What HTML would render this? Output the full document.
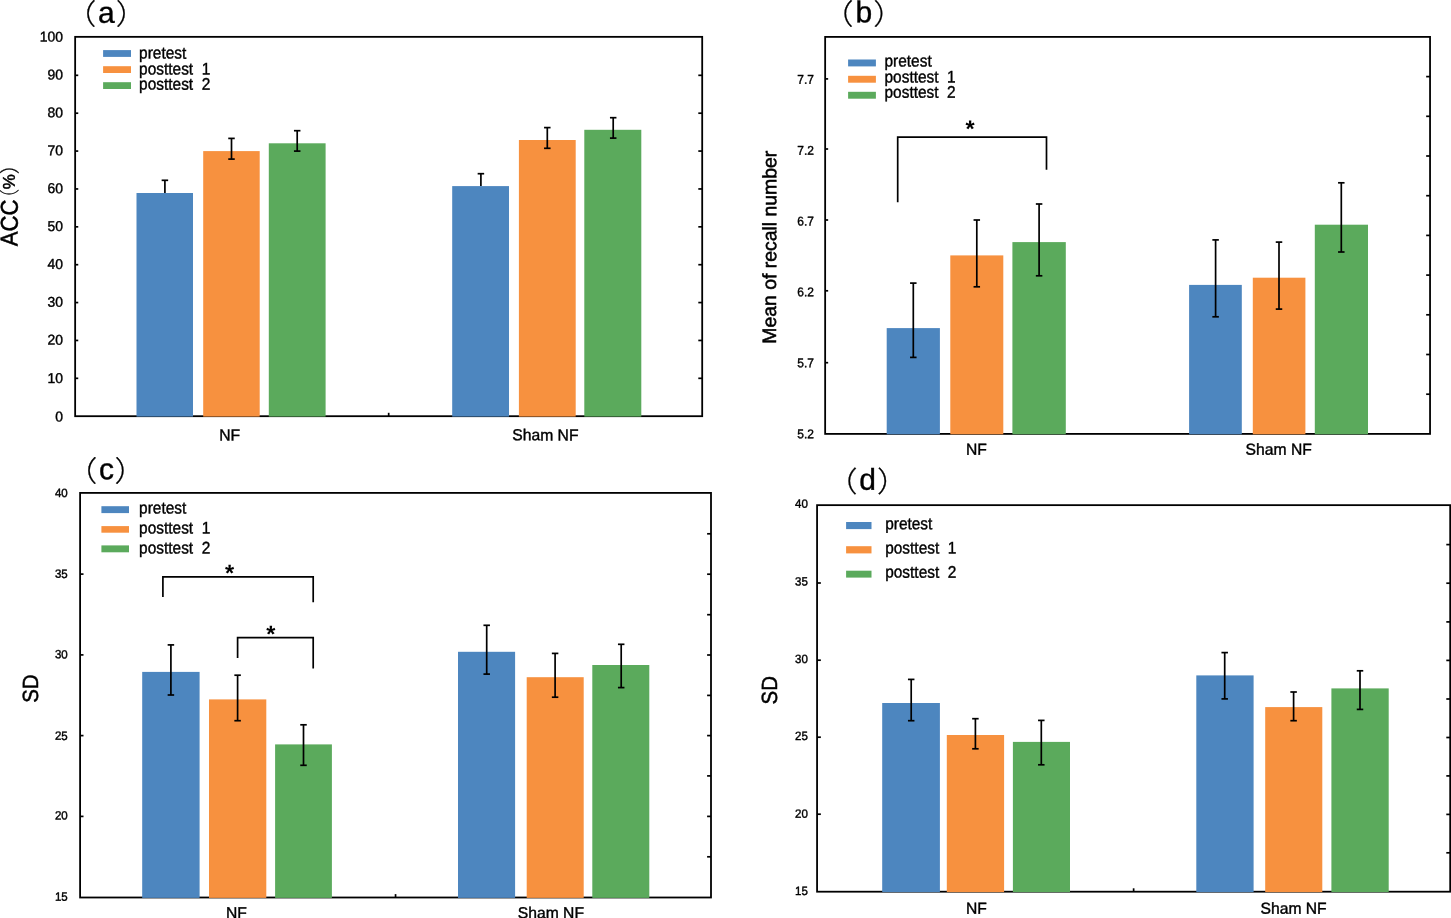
<!DOCTYPE html>
<html lang="en">
<head>
<meta charset="utf-8">
<title>Figure: NF vs Sham NF</title>
<style>
html,body{margin:0;padding:0;background:#fff;}
body{width:1451px;height:918px;overflow:hidden;}
svg{display:block;}
svg text{font-family:"Liberation Sans","Noto Sans CJK SC",sans-serif;fill:#000;}
svg text.t,svg .t2{stroke:#000;stroke-width:0.4px;}
svg text.ty{stroke:#000;stroke-width:0.5px;}
svg .pp{stroke:#000;stroke-width:0.25px;font-family:"Noto Sans CJK SC","Liberation Sans",sans-serif;font-weight:300;}
</style>
</head>
<body>
<svg width="1451" height="918" viewBox="0 0 1451 918">
<rect x="0" y="0" width="1451" height="918" fill="#fff"/>
<g>
<rect x="75.15" y="36.85" width="627.05" height="379.35" fill="none" stroke="#000" stroke-width="1.8"/>
<line x1="75.15" y1="75.32" x2="78.25" y2="75.32" stroke="#000" stroke-width="1.7" stroke-linecap="butt"/>
<line x1="75.15" y1="113.2" x2="78.25" y2="113.2" stroke="#000" stroke-width="1.7" stroke-linecap="butt"/>
<line x1="75.15" y1="151.07" x2="78.25" y2="151.07" stroke="#000" stroke-width="1.7" stroke-linecap="butt"/>
<line x1="75.15" y1="188.95" x2="78.25" y2="188.95" stroke="#000" stroke-width="1.7" stroke-linecap="butt"/>
<line x1="75.15" y1="226.82" x2="78.25" y2="226.82" stroke="#000" stroke-width="1.7" stroke-linecap="butt"/>
<line x1="75.15" y1="264.7" x2="78.25" y2="264.7" stroke="#000" stroke-width="1.7" stroke-linecap="butt"/>
<line x1="75.15" y1="302.57" x2="78.25" y2="302.57" stroke="#000" stroke-width="1.7" stroke-linecap="butt"/>
<line x1="75.15" y1="340.45" x2="78.25" y2="340.45" stroke="#000" stroke-width="1.7" stroke-linecap="butt"/>
<line x1="75.15" y1="378.32" x2="78.25" y2="378.32" stroke="#000" stroke-width="1.7" stroke-linecap="butt"/>
<line x1="698.3" y1="75.32" x2="702.2" y2="75.32" stroke="#000" stroke-width="1.7" stroke-linecap="butt"/>
<line x1="698.3" y1="113.2" x2="702.2" y2="113.2" stroke="#000" stroke-width="1.7" stroke-linecap="butt"/>
<line x1="698.3" y1="151.07" x2="702.2" y2="151.07" stroke="#000" stroke-width="1.7" stroke-linecap="butt"/>
<line x1="698.3" y1="188.95" x2="702.2" y2="188.95" stroke="#000" stroke-width="1.7" stroke-linecap="butt"/>
<line x1="698.3" y1="226.82" x2="702.2" y2="226.82" stroke="#000" stroke-width="1.7" stroke-linecap="butt"/>
<line x1="698.3" y1="264.7" x2="702.2" y2="264.7" stroke="#000" stroke-width="1.7" stroke-linecap="butt"/>
<line x1="698.3" y1="302.57" x2="702.2" y2="302.57" stroke="#000" stroke-width="1.7" stroke-linecap="butt"/>
<line x1="698.3" y1="340.45" x2="702.2" y2="340.45" stroke="#000" stroke-width="1.7" stroke-linecap="butt"/>
<line x1="698.3" y1="378.32" x2="702.2" y2="378.32" stroke="#000" stroke-width="1.7" stroke-linecap="butt"/>
<line x1="388.68" y1="412.8" x2="388.68" y2="416.2" stroke="#000" stroke-width="1.7" stroke-linecap="butt"/>
<rect x="136.5" y="193" width="56.5" height="223.6" fill="#4D86BF"/>
<rect x="203.2" y="151.1" width="56.5" height="265.5" fill="#F7913F"/>
<rect x="268.8" y="143.3" width="56.8" height="273.3" fill="#5BAA5C"/>
<rect x="452.2" y="186.1" width="56.8" height="230.5" fill="#4D86BF"/>
<rect x="518.9" y="140" width="56.8" height="276.6" fill="#F7913F"/>
<rect x="584.3" y="129.8" width="57" height="286.8" fill="#5BAA5C"/>
<line x1="164.9" y1="180.3" x2="164.9" y2="193" stroke="#000" stroke-width="1.7" stroke-linecap="butt"/>
<line x1="161.65" y1="180.3" x2="168.15" y2="180.3" stroke="#000" stroke-width="1.7" stroke-linecap="butt"/>
<line x1="231.5" y1="138.4" x2="231.5" y2="159.1" stroke="#000" stroke-width="1.7" stroke-linecap="butt"/>
<line x1="228.25" y1="138.4" x2="234.75" y2="138.4" stroke="#000" stroke-width="1.7" stroke-linecap="butt"/>
<line x1="228.25" y1="159.1" x2="234.75" y2="159.1" stroke="#000" stroke-width="1.7" stroke-linecap="butt"/>
<line x1="297.2" y1="130.7" x2="297.2" y2="151.1" stroke="#000" stroke-width="1.7" stroke-linecap="butt"/>
<line x1="293.95" y1="130.7" x2="300.45" y2="130.7" stroke="#000" stroke-width="1.7" stroke-linecap="butt"/>
<line x1="293.95" y1="151.1" x2="300.45" y2="151.1" stroke="#000" stroke-width="1.7" stroke-linecap="butt"/>
<line x1="480.9" y1="173.7" x2="480.9" y2="186.1" stroke="#000" stroke-width="1.7" stroke-linecap="butt"/>
<line x1="477.65" y1="173.7" x2="484.15" y2="173.7" stroke="#000" stroke-width="1.7" stroke-linecap="butt"/>
<line x1="547.3" y1="127.6" x2="547.3" y2="148.3" stroke="#000" stroke-width="1.7" stroke-linecap="butt"/>
<line x1="544.05" y1="127.6" x2="550.55" y2="127.6" stroke="#000" stroke-width="1.7" stroke-linecap="butt"/>
<line x1="544.05" y1="148.3" x2="550.55" y2="148.3" stroke="#000" stroke-width="1.7" stroke-linecap="butt"/>
<line x1="613.2" y1="117.7" x2="613.2" y2="138.1" stroke="#000" stroke-width="1.7" stroke-linecap="butt"/>
<line x1="609.95" y1="117.7" x2="616.45" y2="117.7" stroke="#000" stroke-width="1.7" stroke-linecap="butt"/>
<line x1="609.95" y1="138.1" x2="616.45" y2="138.1" stroke="#000" stroke-width="1.7" stroke-linecap="butt"/>
<rect x="103.1" y="50.1" width="27.9" height="6.8" fill="#4D86BF"/>
<text transform="translate(139.1 58.55) matrix(0.919 0.0018 0 1 0 0)" font-size="16.8" text-anchor="start" class="t">pretest</text>
<rect x="103.1" y="66.2" width="27.9" height="6.8" fill="#F7913F"/>
<text transform="translate(139.1 74.5) matrix(0.919 0.0018 0 1 0 0)" font-size="16.8" text-anchor="start" class="t">posttest&#160;&#160;1</text>
<rect x="103.1" y="82.2" width="27.9" height="6.8" fill="#5BAA5C"/>
<text transform="translate(139.1 89.6) matrix(0.919 0.0018 0 1 0 0)" font-size="16.8" text-anchor="start" class="t">posttest&#160;&#160;2</text>
<text transform="translate(62.9 41.65) matrix(0.98 0.0018 0 1 0 0)" font-size="14.2" text-anchor="end" class="t">100</text>
<text transform="translate(62.9 79.52) matrix(0.98 0.0018 0 1 0 0)" font-size="14.2" text-anchor="end" class="t">90</text>
<text transform="translate(62.9 117.4) matrix(0.98 0.0018 0 1 0 0)" font-size="14.2" text-anchor="end" class="t">80</text>
<text transform="translate(62.9 155.27) matrix(0.98 0.0018 0 1 0 0)" font-size="14.2" text-anchor="end" class="t">70</text>
<text transform="translate(62.9 193.15) matrix(0.98 0.0018 0 1 0 0)" font-size="14.2" text-anchor="end" class="t">60</text>
<text transform="translate(62.9 231.02) matrix(0.98 0.0018 0 1 0 0)" font-size="14.2" text-anchor="end" class="t">50</text>
<text transform="translate(62.9 268.9) matrix(0.98 0.0018 0 1 0 0)" font-size="14.2" text-anchor="end" class="t">40</text>
<text transform="translate(62.9 306.77) matrix(0.98 0.0018 0 1 0 0)" font-size="14.2" text-anchor="end" class="t">30</text>
<text transform="translate(62.9 344.65) matrix(0.98 0.0018 0 1 0 0)" font-size="14.2" text-anchor="end" class="t">20</text>
<text transform="translate(62.9 382.92) matrix(0.98 0.0018 0 1 0 0)" font-size="14.2" text-anchor="end" class="t">10</text>
<text transform="translate(62.9 421.4) matrix(0.98 0.0018 0 1 0 0)" font-size="14.2" text-anchor="end" class="t">0</text>
<text transform="translate(229.6 440.4) matrix(0.98 0.0018 0 1 0 0)" font-size="16" text-anchor="middle" class="t">NF</text>
<text transform="translate(545.4 440.4) matrix(0.98 0.0018 0 1 0 0)" font-size="16" text-anchor="middle" class="t">Sham NF</text>
<text class="ty" transform="translate(17.6 246.2) rotate(-90) matrix(1 0.0018 0 1 0 0)" font-size="22.3" text-anchor="start"><tspan x="0" y="0" font-size="24.4" textLength="46.8" lengthAdjust="spacingAndGlyphs">ACC</tspan><tspan class="pp" font-size="20.5" x="36.9" y="-0.8">（</tspan><tspan x="57" y="-2.9" font-size="17">%</tspan><tspan class="pp" font-size="20.5" x="71.9" y="-0.8">）</tspan></text>
<text class="pp" transform="translate(64.54 24.3) matrix(1.12 0.0018 0 1 0 0)" font-size="28.4">（</text>
<text class="t" transform="translate(97.9 22.7) matrix(1 0.0018 0 1 0 0)" font-size="30">a</text>
<text class="pp" transform="translate(115.76 24.3) matrix(1.12 0.0018 0 1 0 0)" font-size="28.4">）</text>
</g>
<g>
<rect x="825.15" y="36.9" width="604.9" height="397" fill="none" stroke="#000" stroke-width="1.8"/>
<line x1="825.15" y1="362.7" x2="828.15" y2="362.7" stroke="#000" stroke-width="1.7" stroke-linecap="butt"/>
<line x1="825.15" y1="290.8" x2="828.15" y2="290.8" stroke="#000" stroke-width="1.7" stroke-linecap="butt"/>
<line x1="825.15" y1="220" x2="828.15" y2="220" stroke="#000" stroke-width="1.7" stroke-linecap="butt"/>
<line x1="825.15" y1="149" x2="828.15" y2="149" stroke="#000" stroke-width="1.7" stroke-linecap="butt"/>
<line x1="825.15" y1="78.9" x2="828.15" y2="78.9" stroke="#000" stroke-width="1.7" stroke-linecap="butt"/>
<line x1="1426.15" y1="76.6" x2="1430.05" y2="76.6" stroke="#000" stroke-width="1.7" stroke-linecap="butt"/>
<line x1="1426.15" y1="116.3" x2="1430.05" y2="116.3" stroke="#000" stroke-width="1.7" stroke-linecap="butt"/>
<line x1="1426.15" y1="156" x2="1430.05" y2="156" stroke="#000" stroke-width="1.7" stroke-linecap="butt"/>
<line x1="1426.15" y1="195.7" x2="1430.05" y2="195.7" stroke="#000" stroke-width="1.7" stroke-linecap="butt"/>
<line x1="1426.15" y1="235.4" x2="1430.05" y2="235.4" stroke="#000" stroke-width="1.7" stroke-linecap="butt"/>
<line x1="1426.15" y1="275.1" x2="1430.05" y2="275.1" stroke="#000" stroke-width="1.7" stroke-linecap="butt"/>
<line x1="1426.15" y1="314.8" x2="1430.05" y2="314.8" stroke="#000" stroke-width="1.7" stroke-linecap="butt"/>
<line x1="1426.15" y1="354.5" x2="1430.05" y2="354.5" stroke="#000" stroke-width="1.7" stroke-linecap="butt"/>
<line x1="1426.15" y1="394.2" x2="1430.05" y2="394.2" stroke="#000" stroke-width="1.7" stroke-linecap="butt"/>
<rect x="886.7" y="328.1" width="53.2" height="106.2" fill="#4D86BF"/>
<rect x="950.3" y="255.4" width="53" height="178.9" fill="#F7913F"/>
<rect x="1012.4" y="242.1" width="53.4" height="192.2" fill="#5BAA5C"/>
<rect x="1189.1" y="284.9" width="52.7" height="149.4" fill="#4D86BF"/>
<rect x="1252.8" y="277.7" width="52.6" height="156.6" fill="#F7913F"/>
<rect x="1314.8" y="224.7" width="53.2" height="209.6" fill="#5BAA5C"/>
<line x1="913.3" y1="283.1" x2="913.3" y2="357.4" stroke="#000" stroke-width="1.7" stroke-linecap="butt"/>
<line x1="910.05" y1="283.1" x2="916.55" y2="283.1" stroke="#000" stroke-width="1.7" stroke-linecap="butt"/>
<line x1="910.05" y1="357.4" x2="916.55" y2="357.4" stroke="#000" stroke-width="1.7" stroke-linecap="butt"/>
<line x1="976.8" y1="220" x2="976.8" y2="286.8" stroke="#000" stroke-width="1.7" stroke-linecap="butt"/>
<line x1="973.55" y1="220" x2="980.05" y2="220" stroke="#000" stroke-width="1.7" stroke-linecap="butt"/>
<line x1="973.55" y1="286.8" x2="980.05" y2="286.8" stroke="#000" stroke-width="1.7" stroke-linecap="butt"/>
<line x1="1039.1" y1="204" x2="1039.1" y2="275.8" stroke="#000" stroke-width="1.7" stroke-linecap="butt"/>
<line x1="1035.85" y1="204" x2="1042.35" y2="204" stroke="#000" stroke-width="1.7" stroke-linecap="butt"/>
<line x1="1035.85" y1="275.8" x2="1042.35" y2="275.8" stroke="#000" stroke-width="1.7" stroke-linecap="butt"/>
<line x1="1215.6" y1="239.9" x2="1215.6" y2="316.8" stroke="#000" stroke-width="1.7" stroke-linecap="butt"/>
<line x1="1212.35" y1="239.9" x2="1218.85" y2="239.9" stroke="#000" stroke-width="1.7" stroke-linecap="butt"/>
<line x1="1212.35" y1="316.8" x2="1218.85" y2="316.8" stroke="#000" stroke-width="1.7" stroke-linecap="butt"/>
<line x1="1279" y1="242.1" x2="1279" y2="309.1" stroke="#000" stroke-width="1.7" stroke-linecap="butt"/>
<line x1="1275.75" y1="242.1" x2="1282.25" y2="242.1" stroke="#000" stroke-width="1.7" stroke-linecap="butt"/>
<line x1="1275.75" y1="309.1" x2="1282.25" y2="309.1" stroke="#000" stroke-width="1.7" stroke-linecap="butt"/>
<line x1="1341.3" y1="182.8" x2="1341.3" y2="252" stroke="#000" stroke-width="1.7" stroke-linecap="butt"/>
<line x1="1338.05" y1="182.8" x2="1344.55" y2="182.8" stroke="#000" stroke-width="1.7" stroke-linecap="butt"/>
<line x1="1338.05" y1="252" x2="1344.55" y2="252" stroke="#000" stroke-width="1.7" stroke-linecap="butt"/>
<polyline points="897.7,202.2 897.7,137.2 1046.5,137.2 1046.5,169.8" fill="none" stroke="#000" stroke-width="1.7" stroke-linejoin="miter"/>
<text transform="translate(970.1 136.8) matrix(0.999 0.0018 0 1 0 0)" font-size="23.5" text-anchor="middle" font-weight="bold">*</text>
<rect x="848.1" y="59.5" width="27.8" height="6.9" fill="#4D86BF"/>
<text transform="translate(884.5 66.4) matrix(0.919 0.0018 0 1 0 0)" font-size="16.8" text-anchor="start" class="t">pretest</text>
<rect x="848.1" y="75.8" width="27.8" height="6.9" fill="#F7913F"/>
<text transform="translate(884.5 82.4) matrix(0.919 0.0018 0 1 0 0)" font-size="16.8" text-anchor="start" class="t">posttest&#160;&#160;1</text>
<rect x="848.1" y="91.8" width="27.8" height="6.9" fill="#5BAA5C"/>
<text transform="translate(884.5 97.7) matrix(0.919 0.0018 0 1 0 0)" font-size="16.8" text-anchor="start" class="t">posttest&#160;&#160;2</text>
<text transform="translate(813.9 438.33) matrix(0.945 0.0018 0 1 0 0)" font-size="12.7" text-anchor="end" class="t">5.2</text>
<text transform="translate(813.9 367.33) matrix(0.945 0.0018 0 1 0 0)" font-size="12.7" text-anchor="end" class="t">5.7</text>
<text transform="translate(813.9 296.33) matrix(0.945 0.0018 0 1 0 0)" font-size="12.7" text-anchor="end" class="t">6.2</text>
<text transform="translate(813.9 225.43) matrix(0.945 0.0018 0 1 0 0)" font-size="12.7" text-anchor="end" class="t">6.7</text>
<text transform="translate(813.9 154.73) matrix(0.945 0.0018 0 1 0 0)" font-size="12.7" text-anchor="end" class="t">7.2</text>
<text transform="translate(813.9 83.83) matrix(0.945 0.0018 0 1 0 0)" font-size="12.7" text-anchor="end" class="t">7.7</text>
<text transform="translate(976.5 454.7) matrix(0.98 0.0018 0 1 0 0)" font-size="16" text-anchor="middle" class="t">NF</text>
<text transform="translate(1278.7 454.7) matrix(0.98 0.0018 0 1 0 0)" font-size="16" text-anchor="middle" class="t">Sham NF</text>
<text class="ty" transform="translate(776.2 247.3) rotate(-90) matrix(1 0.0018 0 1 0 0)" font-size="19.4" text-anchor="middle">Mean of recall number</text>
<text class="pp" transform="translate(821.84 24.3) matrix(1.12 0.0018 0 1 0 0)" font-size="28.4">（</text>
<text class="t" transform="translate(855.4 22.3) matrix(1 0.0018 0 1 0 0)" font-size="30">b</text>
<text class="pp" transform="translate(873.16 24.3) matrix(1.12 0.0018 0 1 0 0)" font-size="28.4">）</text>
</g>
<g>
<rect x="80.1" y="492.9" width="630.9" height="404.6" fill="none" stroke="#000" stroke-width="1.8"/>
<line x1="80.1" y1="574.1" x2="83.5" y2="574.1" stroke="#000" stroke-width="1.7" stroke-linecap="butt"/>
<line x1="80.1" y1="654.9" x2="83.5" y2="654.9" stroke="#000" stroke-width="1.7" stroke-linecap="butt"/>
<line x1="80.1" y1="735.6" x2="83.5" y2="735.6" stroke="#000" stroke-width="1.7" stroke-linecap="butt"/>
<line x1="80.1" y1="816.4" x2="83.5" y2="816.4" stroke="#000" stroke-width="1.7" stroke-linecap="butt"/>
<line x1="707.1" y1="533.8" x2="711" y2="533.8" stroke="#000" stroke-width="1.7" stroke-linecap="butt"/>
<line x1="707.1" y1="574.2" x2="711" y2="574.2" stroke="#000" stroke-width="1.7" stroke-linecap="butt"/>
<line x1="707.1" y1="614.7" x2="711" y2="614.7" stroke="#000" stroke-width="1.7" stroke-linecap="butt"/>
<line x1="707.1" y1="655" x2="711" y2="655" stroke="#000" stroke-width="1.7" stroke-linecap="butt"/>
<line x1="707.1" y1="695.4" x2="711" y2="695.4" stroke="#000" stroke-width="1.7" stroke-linecap="butt"/>
<line x1="707.1" y1="735.6" x2="711" y2="735.6" stroke="#000" stroke-width="1.7" stroke-linecap="butt"/>
<line x1="707.1" y1="775.9" x2="711" y2="775.9" stroke="#000" stroke-width="1.7" stroke-linecap="butt"/>
<line x1="707.1" y1="816.4" x2="711" y2="816.4" stroke="#000" stroke-width="1.7" stroke-linecap="butt"/>
<line x1="707.1" y1="856.8" x2="711" y2="856.8" stroke="#000" stroke-width="1.7" stroke-linecap="butt"/>
<line x1="395.55" y1="894.1" x2="395.55" y2="897.5" stroke="#000" stroke-width="1.7" stroke-linecap="butt"/>
<rect x="142.2" y="671.9" width="57.4" height="226" fill="#4D86BF"/>
<rect x="209" y="699.4" width="57.3" height="198.5" fill="#F7913F"/>
<rect x="275.1" y="744.4" width="56.8" height="153.5" fill="#5BAA5C"/>
<rect x="458" y="651.8" width="57.1" height="246.1" fill="#4D86BF"/>
<rect x="526.7" y="677.2" width="57" height="220.7" fill="#F7913F"/>
<rect x="592.3" y="665" width="57" height="232.9" fill="#5BAA5C"/>
<line x1="170.9" y1="644.9" x2="170.9" y2="695" stroke="#000" stroke-width="1.7" stroke-linecap="butt"/>
<line x1="167.65" y1="644.9" x2="174.15" y2="644.9" stroke="#000" stroke-width="1.7" stroke-linecap="butt"/>
<line x1="167.65" y1="695" x2="174.15" y2="695" stroke="#000" stroke-width="1.7" stroke-linecap="butt"/>
<line x1="237.6" y1="675.2" x2="237.6" y2="720.7" stroke="#000" stroke-width="1.7" stroke-linecap="butt"/>
<line x1="234.35" y1="675.2" x2="240.85" y2="675.2" stroke="#000" stroke-width="1.7" stroke-linecap="butt"/>
<line x1="234.35" y1="720.7" x2="240.85" y2="720.7" stroke="#000" stroke-width="1.7" stroke-linecap="butt"/>
<line x1="303.5" y1="724.8" x2="303.5" y2="765.3" stroke="#000" stroke-width="1.7" stroke-linecap="butt"/>
<line x1="300.25" y1="724.8" x2="306.75" y2="724.8" stroke="#000" stroke-width="1.7" stroke-linecap="butt"/>
<line x1="300.25" y1="765.3" x2="306.75" y2="765.3" stroke="#000" stroke-width="1.7" stroke-linecap="butt"/>
<line x1="486.7" y1="625.3" x2="486.7" y2="674.1" stroke="#000" stroke-width="1.7" stroke-linecap="butt"/>
<line x1="483.45" y1="625.3" x2="489.95" y2="625.3" stroke="#000" stroke-width="1.7" stroke-linecap="butt"/>
<line x1="483.45" y1="674.1" x2="489.95" y2="674.1" stroke="#000" stroke-width="1.7" stroke-linecap="butt"/>
<line x1="555.1" y1="653.4" x2="555.1" y2="697.2" stroke="#000" stroke-width="1.7" stroke-linecap="butt"/>
<line x1="551.85" y1="653.4" x2="558.35" y2="653.4" stroke="#000" stroke-width="1.7" stroke-linecap="butt"/>
<line x1="551.85" y1="697.2" x2="558.35" y2="697.2" stroke="#000" stroke-width="1.7" stroke-linecap="butt"/>
<line x1="621.2" y1="644.3" x2="621.2" y2="687.6" stroke="#000" stroke-width="1.7" stroke-linecap="butt"/>
<line x1="617.95" y1="644.3" x2="624.45" y2="644.3" stroke="#000" stroke-width="1.7" stroke-linecap="butt"/>
<line x1="617.95" y1="687.6" x2="624.45" y2="687.6" stroke="#000" stroke-width="1.7" stroke-linecap="butt"/>
<polyline points="162.9,596.9 162.9,576.8 313.2,576.8 313.2,602.2" fill="none" stroke="#000" stroke-width="1.7" stroke-linejoin="miter"/>
<text transform="translate(229.5 581) matrix(0.999 0.0018 0 1 0 0)" font-size="23.5" text-anchor="middle" font-weight="bold">*</text>
<polyline points="237.6,658 237.6,637.7 313.2,637.7 313.2,668.4" fill="none" stroke="#000" stroke-width="1.7" stroke-linejoin="miter"/>
<text transform="translate(270.8 642) matrix(0.999 0.0018 0 1 0 0)" font-size="23.5" text-anchor="middle" font-weight="bold">*</text>
<rect x="101.4" y="506.2" width="27.6" height="6.9" fill="#4D86BF"/>
<text transform="translate(139.1 513.5) matrix(0.919 0.0018 0 1 0 0)" font-size="16.8" text-anchor="start" class="t">pretest</text>
<rect x="101.4" y="526.1" width="27.6" height="6.6" fill="#F7913F"/>
<text transform="translate(139.1 533.4) matrix(0.919 0.0018 0 1 0 0)" font-size="16.8" text-anchor="start" class="t">posttest&#160;&#160;1</text>
<rect x="101.4" y="545.4" width="27.6" height="6.9" fill="#5BAA5C"/>
<text transform="translate(139.1 553.4) matrix(0.919 0.0018 0 1 0 0)" font-size="16.8" text-anchor="start" class="t">posttest&#160;&#160;2</text>
<text transform="translate(67.7 496.99) matrix(0.96 0.0018 0 1 0 0)" font-size="12.0" text-anchor="end" class="t">40</text>
<text transform="translate(67.7 577.89) matrix(0.96 0.0018 0 1 0 0)" font-size="12.0" text-anchor="end" class="t">35</text>
<text transform="translate(67.7 658.39) matrix(0.96 0.0018 0 1 0 0)" font-size="12.0" text-anchor="end" class="t">30</text>
<text transform="translate(67.7 739.89) matrix(0.96 0.0018 0 1 0 0)" font-size="12.0" text-anchor="end" class="t">25</text>
<text transform="translate(67.7 819.59) matrix(0.96 0.0018 0 1 0 0)" font-size="12.0" text-anchor="end" class="t">20</text>
<text transform="translate(67.7 900.69) matrix(0.96 0.0018 0 1 0 0)" font-size="12.0" text-anchor="end" class="t">15</text>
<text transform="translate(236.5 918.2) matrix(0.98 0.0018 0 1 0 0)" font-size="16" text-anchor="middle" class="t">NF</text>
<text transform="translate(550.9 918.2) matrix(0.98 0.0018 0 1 0 0)" font-size="16" text-anchor="middle" class="t">Sham NF</text>
<text class="ty" transform="translate(38 688.6) rotate(-90) matrix(0.93 0.0018 0 1 0 0)" font-size="22" text-anchor="middle">SD</text>
<text class="pp" transform="translate(65.44 481.3) matrix(1.12 0.0018 0 1 0 0)" font-size="28.4">（</text>
<text class="t" transform="translate(98.9 479.3) matrix(1 0.0018 0 1 0 0)" font-size="30">c</text>
<text class="pp" transform="translate(114.56 481.3) matrix(1.12 0.0018 0 1 0 0)" font-size="28.4">）</text>
</g>
<g>
<rect x="817.07" y="505.15" width="633.13" height="386.55" fill="none" stroke="#000" stroke-width="1.8"/>
<line x1="817.07" y1="583" x2="820.87" y2="583" stroke="#000" stroke-width="1.7" stroke-linecap="butt"/>
<line x1="817.07" y1="660.2" x2="820.87" y2="660.2" stroke="#000" stroke-width="1.7" stroke-linecap="butt"/>
<line x1="817.07" y1="737.2" x2="820.87" y2="737.2" stroke="#000" stroke-width="1.7" stroke-linecap="butt"/>
<line x1="817.07" y1="814.2" x2="820.87" y2="814.2" stroke="#000" stroke-width="1.7" stroke-linecap="butt"/>
<line x1="1446.3" y1="544.6" x2="1450.2" y2="544.6" stroke="#000" stroke-width="1.7" stroke-linecap="butt"/>
<line x1="1446.3" y1="583.2" x2="1450.2" y2="583.2" stroke="#000" stroke-width="1.7" stroke-linecap="butt"/>
<line x1="1446.3" y1="621.9" x2="1450.2" y2="621.9" stroke="#000" stroke-width="1.7" stroke-linecap="butt"/>
<line x1="1446.3" y1="660.4" x2="1450.2" y2="660.4" stroke="#000" stroke-width="1.7" stroke-linecap="butt"/>
<line x1="1446.3" y1="699" x2="1450.2" y2="699" stroke="#000" stroke-width="1.7" stroke-linecap="butt"/>
<line x1="1446.3" y1="737.5" x2="1450.2" y2="737.5" stroke="#000" stroke-width="1.7" stroke-linecap="butt"/>
<line x1="1446.3" y1="775.9" x2="1450.2" y2="775.9" stroke="#000" stroke-width="1.7" stroke-linecap="butt"/>
<line x1="1446.3" y1="814.4" x2="1450.2" y2="814.4" stroke="#000" stroke-width="1.7" stroke-linecap="butt"/>
<line x1="1446.3" y1="852.8" x2="1450.2" y2="852.8" stroke="#000" stroke-width="1.7" stroke-linecap="butt"/>
<line x1="1133.63" y1="888.3" x2="1133.63" y2="891.7" stroke="#000" stroke-width="1.7" stroke-linecap="butt"/>
<rect x="882.2" y="703" width="57.7" height="189.1" fill="#4D86BF"/>
<rect x="946.8" y="735" width="57.3" height="157.1" fill="#F7913F"/>
<rect x="1012.9" y="741.9" width="57.1" height="150.2" fill="#5BAA5C"/>
<rect x="1196.3" y="675.4" width="57.3" height="216.7" fill="#4D86BF"/>
<rect x="1265.2" y="707.1" width="57.1" height="185" fill="#F7913F"/>
<rect x="1331.4" y="688.4" width="57.3" height="203.7" fill="#5BAA5C"/>
<line x1="911.2" y1="679.4" x2="911.2" y2="720.7" stroke="#000" stroke-width="1.7" stroke-linecap="butt"/>
<line x1="907.95" y1="679.4" x2="914.45" y2="679.4" stroke="#000" stroke-width="1.7" stroke-linecap="butt"/>
<line x1="907.95" y1="720.7" x2="914.45" y2="720.7" stroke="#000" stroke-width="1.7" stroke-linecap="butt"/>
<line x1="975.4" y1="718.7" x2="975.4" y2="748.8" stroke="#000" stroke-width="1.7" stroke-linecap="butt"/>
<line x1="972.15" y1="718.7" x2="978.65" y2="718.7" stroke="#000" stroke-width="1.7" stroke-linecap="butt"/>
<line x1="972.15" y1="748.8" x2="978.65" y2="748.8" stroke="#000" stroke-width="1.7" stroke-linecap="butt"/>
<line x1="1041.3" y1="720.4" x2="1041.3" y2="764.8" stroke="#000" stroke-width="1.7" stroke-linecap="butt"/>
<line x1="1038.05" y1="720.4" x2="1044.55" y2="720.4" stroke="#000" stroke-width="1.7" stroke-linecap="butt"/>
<line x1="1038.05" y1="764.8" x2="1044.55" y2="764.8" stroke="#000" stroke-width="1.7" stroke-linecap="butt"/>
<line x1="1224.7" y1="652.6" x2="1224.7" y2="698.9" stroke="#000" stroke-width="1.7" stroke-linecap="butt"/>
<line x1="1221.45" y1="652.6" x2="1227.95" y2="652.6" stroke="#000" stroke-width="1.7" stroke-linecap="butt"/>
<line x1="1221.45" y1="698.9" x2="1227.95" y2="698.9" stroke="#000" stroke-width="1.7" stroke-linecap="butt"/>
<line x1="1293.6" y1="692" x2="1293.6" y2="720.7" stroke="#000" stroke-width="1.7" stroke-linecap="butt"/>
<line x1="1290.35" y1="692" x2="1296.85" y2="692" stroke="#000" stroke-width="1.7" stroke-linecap="butt"/>
<line x1="1290.35" y1="720.7" x2="1296.85" y2="720.7" stroke="#000" stroke-width="1.7" stroke-linecap="butt"/>
<line x1="1360" y1="670.8" x2="1360" y2="709.4" stroke="#000" stroke-width="1.7" stroke-linecap="butt"/>
<line x1="1356.75" y1="670.8" x2="1363.25" y2="670.8" stroke="#000" stroke-width="1.7" stroke-linecap="butt"/>
<line x1="1356.75" y1="709.4" x2="1363.25" y2="709.4" stroke="#000" stroke-width="1.7" stroke-linecap="butt"/>
<rect x="846.1" y="522" width="25.4" height="7.1" fill="#4D86BF"/>
<text transform="translate(885.2 529.2) matrix(0.919 0.0018 0 1 0 0)" font-size="16.8" text-anchor="start" class="t">pretest</text>
<rect x="846.1" y="546.2" width="25.4" height="7.2" fill="#F7913F"/>
<text transform="translate(885.2 553.4) matrix(0.919 0.0018 0 1 0 0)" font-size="16.8" text-anchor="start" class="t">posttest&#160;&#160;1</text>
<rect x="846.1" y="570.7" width="25.4" height="6.9" fill="#5BAA5C"/>
<text transform="translate(885.2 577.6) matrix(0.919 0.0018 0 1 0 0)" font-size="16.8" text-anchor="start" class="t">posttest&#160;&#160;2</text>
<text transform="translate(807.8 507.69) matrix(0.96 0.0018 0 1 0 0)" font-size="12.0" text-anchor="end" class="t">40</text>
<text transform="translate(807.8 585.49) matrix(0.96 0.0018 0 1 0 0)" font-size="12.0" text-anchor="end" class="t">35</text>
<text transform="translate(807.8 663.09) matrix(0.96 0.0018 0 1 0 0)" font-size="12.0" text-anchor="end" class="t">30</text>
<text transform="translate(807.8 740.09) matrix(0.96 0.0018 0 1 0 0)" font-size="12.0" text-anchor="end" class="t">25</text>
<text transform="translate(807.8 817.69) matrix(0.96 0.0018 0 1 0 0)" font-size="12.0" text-anchor="end" class="t">20</text>
<text transform="translate(807.8 894.99) matrix(0.96 0.0018 0 1 0 0)" font-size="12.0" text-anchor="end" class="t">15</text>
<text transform="translate(976.5 913.8) matrix(0.98 0.0018 0 1 0 0)" font-size="16" text-anchor="middle" class="t">NF</text>
<text transform="translate(1293.6 913.8) matrix(0.98 0.0018 0 1 0 0)" font-size="16" text-anchor="middle" class="t">Sham NF</text>
<text class="ty" transform="translate(777 690.3) rotate(-90) matrix(0.93 0.0018 0 1 0 0)" font-size="22" text-anchor="middle">SD</text>
<text class="pp" transform="translate(825.74 491.8) matrix(1.12 0.0018 0 1 0 0)" font-size="28.4">（</text>
<text class="t" transform="translate(859.2 489.8) matrix(1 0.0018 0 1 0 0)" font-size="30">d</text>
<text class="pp" transform="translate(876.96 491.8) matrix(1.12 0.0018 0 1 0 0)" font-size="28.4">）</text>
</g>
</svg>
</body>
</html>
